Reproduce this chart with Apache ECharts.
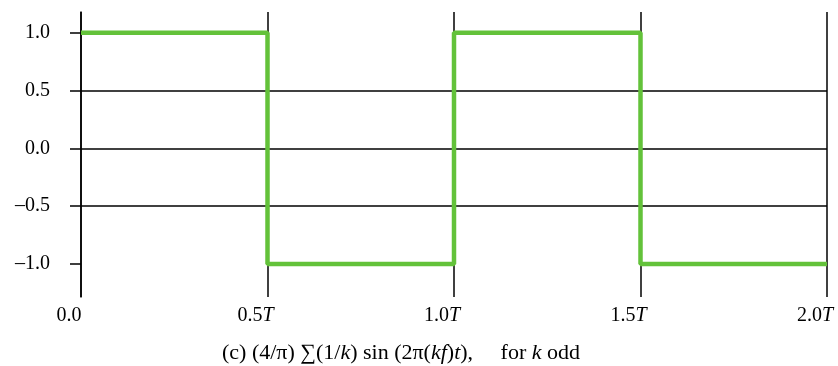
<!DOCTYPE html>
<html>
<head>
<meta charset="utf-8">
<script src="https://cdn.jsdelivr.net/npm/echarts@6/dist/echarts.min.js"></script>
<style>
  html, body { margin: 0; padding: 0; background: #fff; }
  #chart { width: 838px; height: 366px; }
</style>
</head>
<body>
<div id="chart"></div>
<script>
// Square wave: the odd-harmonic Fourier sum over two periods
const times = [0, 0.5, 1.0, 1.5, 2.0];
const levels = [1, -1, 1, -1, -1];
const xTicks = [0, 0.5, 1.0, 1.5, 2.0];
const xTickLabels = ['0.0', '0.5', '1.0', '1.5', '2.0'];
const yTicks = [-1, -0.5, 0, 0.5, 1];
const yTickLabels = ['\u20131.0', '\u20130.5', '0.0', '0.5', '1.0'];
const caption = '(c) (4/\u03c0) \u2211(1/{i|k}) sin (2\u03c0({i|kf}){i|t}),     for {i|k} odd';

const FONT = '"Liberation Serif", "DejaVu Serif", serif';
const ink = '#000';
const FS = 20;
const CAP_FS = 22;

const chart = echarts.init(document.getElementById('chart'), null, { renderer: 'canvas' });

chart.setOption({
  animation: false,
  backgroundColor: '#fff',
  graphic: [{
    type: 'text',
    x: 401,
    y: 353,
    style: {
      text: caption,
      font: CAP_FS + 'px ' + FONT,
      fill: ink,
      verticalAlign: 'middle',
      align: 'center',
      rich: { i: { fontFamily: FONT, fontSize: CAP_FS, fontStyle: 'italic', fill: ink } }
    }
  }],
  grid: { left: 81, right: 11, top: 12, bottom: 69, outerBoundsMode: 'none' },
  xAxis: {
    type: 'value',
    min: 0, max: 2, interval: 0.5,
    axisLine: { show: false },
    axisTick: { show: false },
    splitLine: { show: true, lineStyle: { color: ink, width: 1.5 } },
    axisLabel: {
      margin: 9,
      padding: [0, 24, 0, 0],
      fontFamily: FONT, fontSize: FS, color: ink,
      formatter: function (v) {
        const i = xTicks.indexOf(v);
        if (i < 0) return '';
        return i === 0 ? xTickLabels[i] : xTickLabels[i] + '{i|T}';
      },
      rich: { i: { fontFamily: FONT, fontSize: FS, fontStyle: 'italic', color: ink } }
    }
  },
  yAxis: {
    type: 'value',
    min: -1.286, max: 1.18, interval: 0.5,
    axisLine: { show: true, lineStyle: { color: ink, width: 1.5 } },
    axisTick: { show: true, length: 11, customValues: yTicks, lineStyle: { color: ink, width: 1.5 } },
    splitLine: { show: true, showMinLine: false, showMaxLine: false, lineStyle: { color: ink, width: 1.5 } },
    axisLabel: {
      customValues: yTicks,
      margin: 31,
      fontFamily: FONT, fontSize: FS, color: ink,
      formatter: function (v) {
        const i = yTicks.indexOf(Math.round(v * 100) / 100);
        return i < 0 ? '' : yTickLabels[i];
      }
    }
  },
  series: [{
    type: 'line',
    step: 'end',
    data: times.map((t, i) => [t, levels[i]]),
    showSymbol: false,
    lineStyle: { color: '#63c23a', width: 4.5 },
    z: 5
  }]
});
</script>
</body>
</html>
